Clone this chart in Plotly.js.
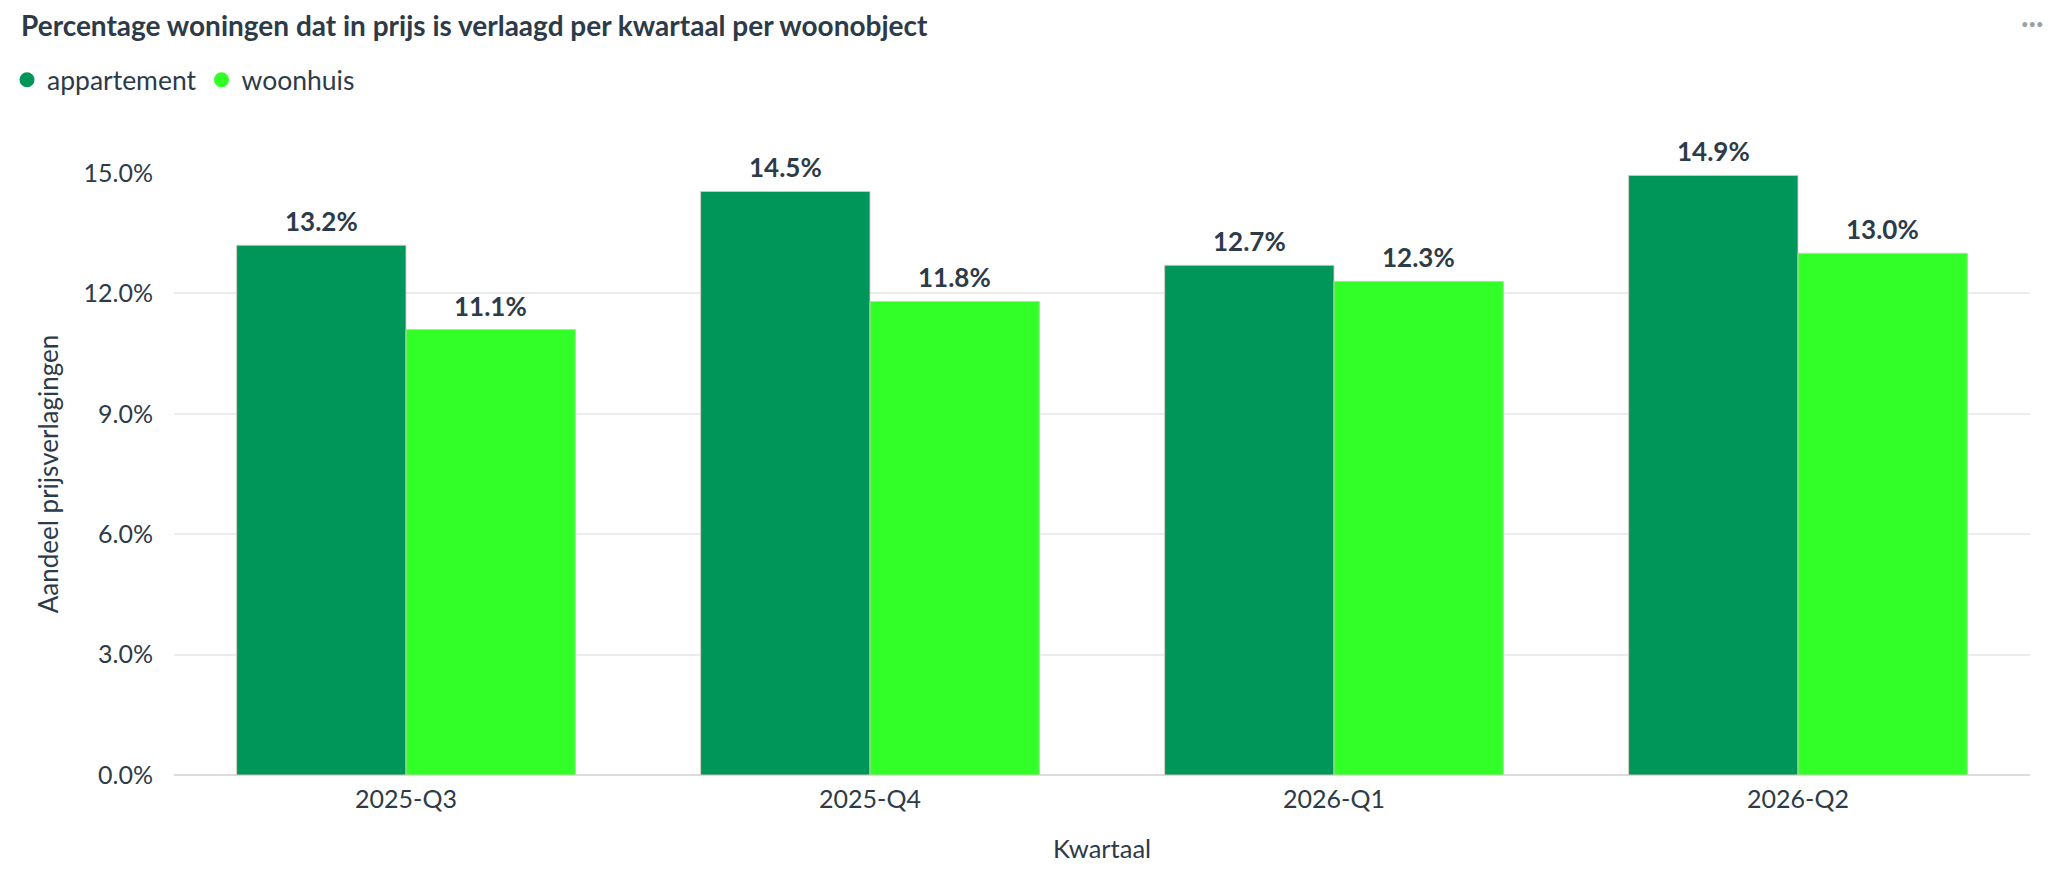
<!DOCTYPE html>
<html><head><meta charset="utf-8">
<script src="https://cdn.plot.ly/plotly-3.0.1.min.js"></script>
<style>html,body{margin:0;padding:0;background:#fff}#chart{width:2058px;height:880px}</style>
</head><body><div id="chart"></div>
<script>
const quarters = ['2025-Q3', '2025-Q4', '2026-Q1', '2026-Q2'];
const appartement = [13.2, 14.54, 12.7, 14.94];
const woonhuis = [11.1, 11.8, 12.3, 13.0];
const seriesNames = ['appartement', 'woonhuis'];
const seriesColors = ['#00965a', '#33ff28'];
const yTickValues = [0, 3, 6, 9, 12, 15];
const yTickLabels = ['0.0%', '3.0%', '6.0%', '9.0%', '12.0%', '15.0%'];
const chartTitle = 'Percentage woningen dat in prijs is verlaagd per kwartaal per woonobject';
const xTitle = 'Kwartaal';
const yTitle = 'Aandeel prijsverlagingen';

const textColor = '#2d3b48';
const seriesValues = [appartement, woonhuis];

const bargap = 0.27;
const plotWidth = 2058 - 174 - 28;
const barHalfWidthPx = plotWidth / quarters.length * (1 - bargap) / seriesValues.length / 2;

const traces = [];
seriesValues.forEach((vals, i) => {
  traces.push({
    type: 'bar', x: quarters, y: vals, name: seriesNames[i], showlegend: false,
    legendgroup: seriesNames[i],
    marker: {color: seriesColors[i], line: {color: 'rgba(215,200,195,0.9)', width: 1}},
    hoverinfo: 'x+y'
  });
});
seriesValues.forEach((vals, i) => {
  traces.push({
    type: 'scatter', mode: 'markers', x: [null], y: [null], name: seriesNames[i],
    legendgroup: seriesNames[i], showlegend: true,
    marker: {color: seriesColors[i], size: 15, symbol: 'circle'}
  });
});

const annotations = [];
seriesValues.forEach((vals, i) => {
  vals.forEach((v, j) => {
    annotations.push({
      xref: 'x', yref: 'y', x: quarters[j], y: v, text: v.toFixed(1) + '%',
      xanchor: 'center', yanchor: 'bottom', showarrow: false,
      xshift: (i === 0 ? -1 : 1) * barHalfWidthPx, yshift: 6,
      font: {family: 'Lato, sans-serif', size: 26, weight: 700, color: textColor}
    });
  });
});
annotations.push({text: '•••', xref: 'paper', yref: 'paper', x: 1, y: (775 - 24) / 602, xanchor: 'right', yanchor: 'middle',
  xshift: 16, showarrow: false, font: {size: 13, color: '#9aa0a6'}});

const layout = {
  width: 2058, height: 880,
  margin: {l: 174, r: 28, t: 173, b: 105},
  paper_bgcolor: '#fff', plot_bgcolor: '#fff',
  font: {family: 'Lato, sans-serif', size: 25, color: textColor},
  title: {text: chartTitle, font: {size: 28, weight: 700, color: textColor},
    x: 21 / 2058, xref: 'container', xanchor: 'left', y: 1 - 26 / 880, yref: 'container', yanchor: 'middle'},
  barmode: 'group', bargap: bargap, bargroupgap: 0,
  showlegend: true,
  legend: {orientation: 'h', xref: 'container', yref: 'container', x: 7 / 2058, y: 1 - 80 / 880,
    xanchor: 'left', yanchor: 'middle', font: {size: 26.5, color: textColor}, bgcolor: 'rgba(0,0,0,0)'},
  xaxis: {type: 'category', range: [-0.5, 3.5], showgrid: false, zeroline: false, showline: false,
    ticks: '', ticklabelstandoff: 7, tickfont: {size: 25, color: textColor},
    title: {text: xTitle, standoff: 28, font: {size: 25.5, color: textColor}}},
  yaxis: {range: [0, 15], tickvals: yTickValues, ticktext: yTickLabels,
    showgrid: true, gridcolor: '#ececec', gridwidth: 2, zeroline: true, zerolinecolor: '#dcdcdc', zerolinewidth: 2,
    showline: false, ticks: '', ticklabelstandoff: 20, tickfont: {size: 25, color: textColor},
    title: {text: yTitle, standoff: 17, font: {size: 26, color: textColor}}},
  annotations: annotations
};

Plotly.newPlot('chart', traces, layout, {displayModeBar: false, responsive: false});
</script>
</body></html>
